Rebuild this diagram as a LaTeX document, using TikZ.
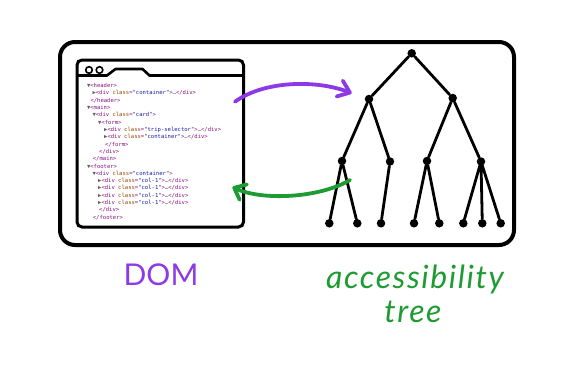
\documentclass[tikz,border=0pt]{standalone}
\usepackage{fontspec}
\setmainfont{Lato}
\newfontfamily\codefont{DejaVu Sans Mono}
\usetikzlibrary{arrows.meta}
\definecolor{tagc}{HTML}{881280}
\definecolor{attc}{HTML}{994500}
\definecolor{valc}{HTML}{1A1AA6}
\definecolor{tric}{HTML}{606060}
\definecolor{domc}{HTML}{8D3AE6}
\definecolor{treec}{HTML}{1E9B32}
\newcommand\Tg[1]{\textcolor{tagc}{#1}}
\newcommand\At[1]{\textcolor{attc}{#1}}
\newcommand\Va[1]{\textcolor{valc}{#1}}
\newcommand\Dn{\textcolor{tric}{▼}}
\newcommand\Rt{\textcolor{tric}{▶}}
\newcommand\Ell{\textcolor{tric}{…}}
\newcommand\Dv[1]{\Tg{<div }\At{class}\Tg{=}\Va{"#1"}\Tg{>}}
\begin{document}
\begin{tikzpicture}[x=1pt,y=-1pt,
  code/.style={anchor=west,inner sep=0pt,font=\codefont\fontsize{5.55}{6}\selectfont},
  frame/.style={draw,line width=4pt,rounded corners=15pt,inner sep=0pt},
  win/.style={draw,line width=3pt,rounded corners=5pt,inner sep=0pt},
  dot/.style={circle,fill=black,inner sep=0pt,minimum size=8.5pt},
  treeline/.style={line width=2.8pt,line cap=round},
  swoop/.style={line width=3.8pt,line cap=round,line join=round},
  lab/.style={inner sep=0pt,anchor=base}]
\useasboundingbox (0,0) rectangle (575,383);
% outer frame and browser window
\node[frame,minimum width=454pt,minimum height=203pt] (outer) at (287,143.5) {};
\node[win,minimum width=166.5pt,minimum height=167pt] (win) at (160.25,143.5) {};
\draw[line width=2.6pt,line join=round] (77,75.5) -- (107,75.5) -- (115.5,69) -- (142.5,69) -- (149.5,75.5) -- (243.5,75.5);
\draw[line width=1.6pt] (89,70) circle (3.3) (99.5,70) circle (3.3);
% code lines
\node[code] (c0) at (86.8,85.7) {\Dn\Tg{<header>}};
\node[code] (c1) at (92.3,93.0) {\Rt\Dv{container}\Ell\Tg{</div>}};
\node[code] (c2) at (90.3,100.3) {\Tg{</header>}};
\node[code] (c3) at (86.8,107.6) {\Dn\Tg{<main>}};
\node[code] (c4) at (92.3,114.9) {\Dn\Dv{card}};
\node[code] (c5) at (98.0,122.3) {\Dn\Tg{<form>}};
\node[code] (c6) at (104.0,129.6) {\Rt\Dv{trip-selector}\Ell\Tg{</div>}};
\node[code] (c7) at (104.0,136.9) {\Rt\Dv{container}\Ell\Tg{</div>}};
\node[code] (c8) at (105.0,144.2) {\Tg{</form>}};
\node[code] (c9) at (99.0,151.5) {\Tg{</div>}};
\node[code] (c10) at (92.7,158.8) {\Tg{</main>}};
\node[code] (c11) at (86.8,166.1) {\Dn\Tg{<footer>}};
\node[code] (c12) at (92.3,173.4) {\Dn\Dv{container}};
\node[code] (c13) at (98.0,180.8) {\Rt\Dv{col-1}\Ell\Tg{</div>}};
\node[code] (c14) at (98.0,188.1) {\Rt\Dv{col-1}\Ell\Tg{</div>}};
\node[code] (c15) at (98.0,195.4) {\Rt\Dv{col-1}\Ell\Tg{</div>}};
\node[code] (c16) at (98.0,202.7) {\Rt\Dv{col-1}\Ell\Tg{</div>}};
\node[code] (c17) at (99.0,210.0) {\Tg{</div>}};
\node[code] (c18) at (92.7,217.3) {\Tg{</footer>}};
% tree
\node[dot] (r) at (411.7,53.3) {};
\node[dot] (a) at (369,99) {};
\node[dot] (b) at (452.7,98) {};
\node[dot] (a1) at (342,161) {};
\node[dot] (a2) at (390,161.5) {};
\node[dot] (b1) at (427,161) {};
\node[dot] (b2) at (481,161.5) {};
\foreach \n/\x in {l1/329.3,l2/357.3,l3/381,l4/414,l5/439.3,l6/463.3,l7/482.3,l8/500.7}
  \node[dot] (\n) at (\x,223.3) {};
\draw[treeline] (r) -- (a) (r) -- (b) (a) -- (a1) (a) -- (a2) (b) -- (b1) (b) -- (b2)
  (a1) -- (l1) (a1) -- (l2) (a2) -- (l3) (b1) -- (l4) (b1) -- (l5)
  (b2) -- (l6) (b2) -- (l7) (b2) -- (l8);
% arrows
\coordinate (ps) at (235,101.7);
\coordinate (pe) at (351.7,93.3);
\coordinate (gs) at (350,180);
\coordinate (ge) at (232.5,187);
\draw[swoop,domc,-{Straight Barb[length=11pt,width=17pt,line cap=round,line join=round]}]
  (ps) .. controls (265,80) and (318,80) .. (pe);
\draw[swoop,treec,-{Straight Barb[length=10pt,width=17pt,line cap=round,line join=round]}]
  (gs) .. controls (320,198) and (262,201) .. (ge);
% labels
\node[lab,text=domc,font=\fontsize{30}{34}\selectfont] (dom) at (161,285) {DOM};
\node[lab,text=treec,font=\fontsize{32}{36}\selectfont\itshape\addfontfeature{LetterSpace=5}] (acc) at (415,288) {accessibility};
\node[lab,text=treec,font=\fontsize{32}{36}\selectfont\itshape\addfontfeature{LetterSpace=5}] (tree) at (413,322) {tree};
\end{tikzpicture}
\end{document}
